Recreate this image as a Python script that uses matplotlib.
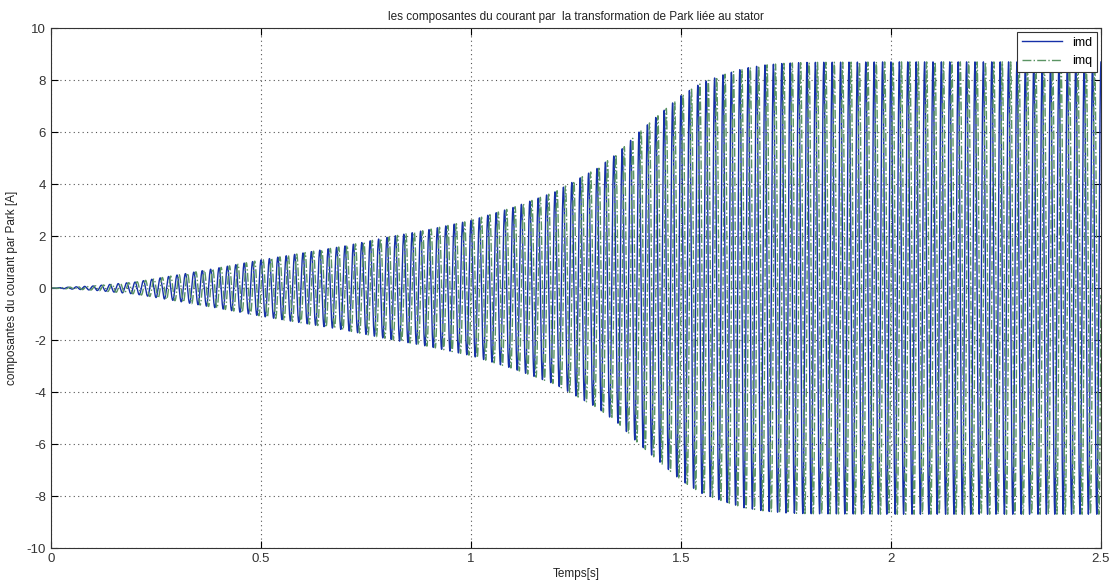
import numpy as np
import matplotlib
matplotlib.use('Agg')
import matplotlib.pyplot as plt

plt.rcParams['font.family'] = ['Liberation Sans', 'DejaVu Sans']
plt.rcParams['axes.unicode_minus'] = False

# envelope of the currents (time in s, amplitude in A)
env_t = [0, 0.1, 0.2, 0.3, 0.4, 0.5, 0.6, 0.7, 0.8, 0.9, 1.0, 1.1, 1.2, 1.3,
         1.35, 1.4, 1.45, 1.5, 1.55, 1.6, 1.65, 1.7, 1.75, 1.8, 2.0, 2.5]
env_a = [0, 0.08, 0.23, 0.5, 0.78, 1.08, 1.35, 1.62, 1.95, 2.25, 2.6, 3.1, 3.7, 4.6,
         5.2, 6.0, 6.7, 7.4, 7.9, 8.2, 8.45, 8.58, 8.65, 8.68, 8.7, 8.7]
f_supply = 50.0  # Hz, stator frame -> currents oscillate at supply frequency

xticks = [0, 0.5, 1, 1.5, 2, 2.5]
xticklabels = ['0', '0.5', '1', '1.5', '2', '2.5']
yticks = [-10, -8, -6, -4, -2, 0, 2, 4, 6, 8, 10]

t = np.arange(0, 2.5, 1e-4)
amp = np.interp(t, env_t, env_a)
imd = amp * np.cos(2 * np.pi * f_supply * t)
imq = amp * np.sin(2 * np.pi * f_supply * t)

fig = plt.figure(figsize=(11.14, 5.85), dpi=100)
ax = fig.add_axes([0.0458, 0.0632, 0.9425, 0.8888])

ax.plot(t, imd, color='#1530a8', lw=1.0, label='imd')
ax.plot(t, imq, color='#5b9463', lw=1.0, ls='-.', label='imq')

ax.set_xlim(0, 2.5)
ax.set_ylim(-10, 10)
ax.set_xticks(xticks)
ax.set_xticklabels(xticklabels)
ax.set_yticks(yticks)
ax.tick_params(direction='in', labelsize=9.5, length=5, top=True, right=True,
               labelcolor='#333333')
ax.grid(True, color='#555555', ls=(0, (1, 3)), lw=0.8)
for s in ax.spines.values():
    s.set_linewidth(0.8)
    s.set_color('#333333')

ax.set_title('les composantes du courant par  la transformation de Park liée au stator',
             fontsize=8.5, pad=6, color='#222222')
ax.set_xlabel('Temps[s]', fontsize=8.5, labelpad=2, color='#222222')
ax.set_ylabel('composantes du courant par Park [A]', fontsize=8.5, labelpad=6,
              color='#222222')

leg = ax.legend(loc='upper right', fontsize=9, fancybox=False, framealpha=1,
                edgecolor='#333333', handlelength=3.2, borderaxespad=0.3)
leg.get_frame().set_linewidth(0.8)

fig.savefig('out.png', dpi=100)
